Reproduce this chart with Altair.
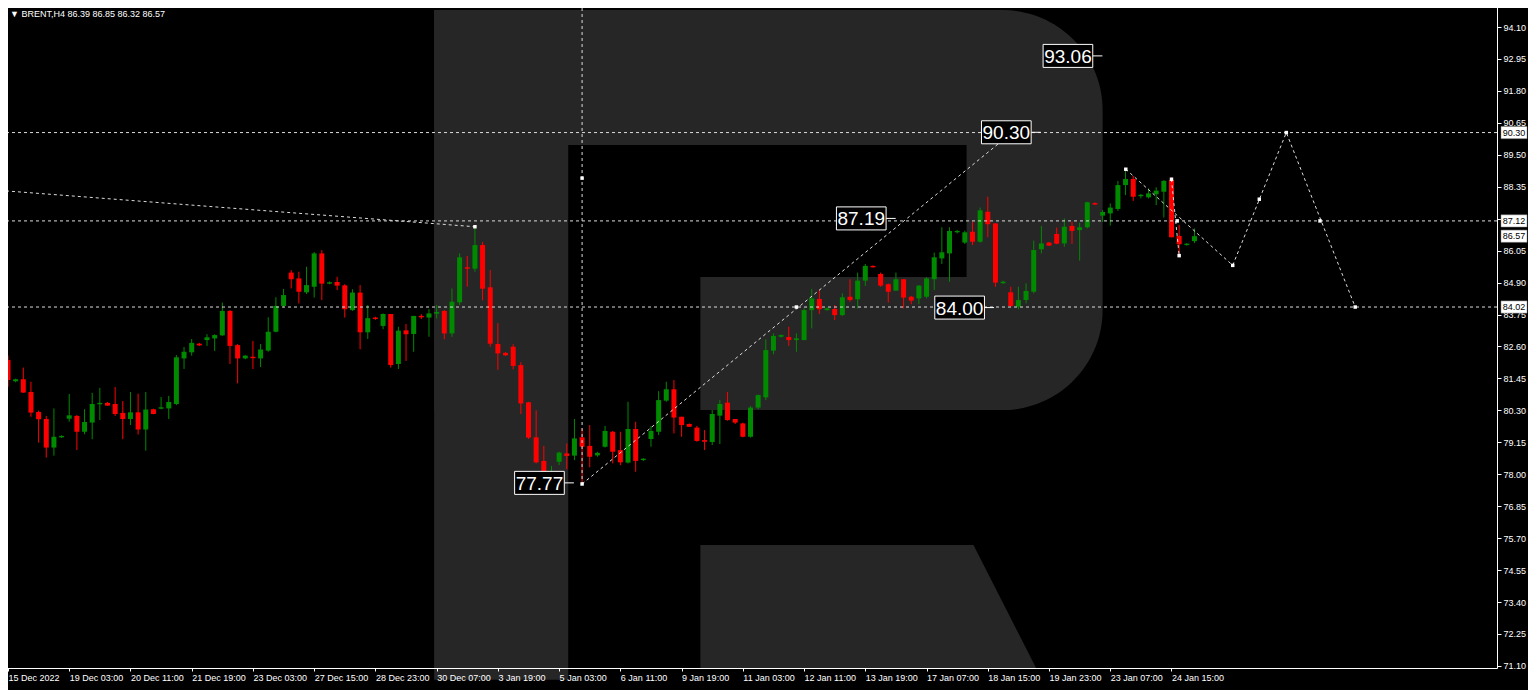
import altair as alt
import pandas as pd

# ---------------- candle data (H4 bars, index 0 = 15 Dec 2022) ----------------
opens = [82.11, 81.35, 81.42, 80.96, 80.24, 79.99, 78.96, 79.33, 80.00, 80.10,
         79.53, 79.86, 80.52, 80.57, 80.53, 80.21, 79.99, 80.23, 79.61, 80.34,
         80.36, 80.37, 80.53, 82.17, 82.39, 82.70, 82.83, 82.89, 83.00, 83.88,
         82.65, 82.17, 82.23, 82.17, 82.45, 83.13, 84.06, 85.26, 85.05, 84.55,
         84.75, 85.95, 84.86, 84.92, 84.80, 83.91, 84.54, 83.11, 83.64, 83.34,
         83.77, 81.97, 83.18, 83.05, 83.70, 83.64, 83.78, 83.88, 83.07, 84.19,
         85.45, 85.40, 86.25, 84.73, 82.69, 82.37, 82.59, 81.93, 80.59, 79.33,
         78.48, 77.98, 78.45, 78.75, 78.67, 79.33, 79.02, 78.68, 78.99, 79.53,
         78.87, 78.42, 79.63, 78.51, 79.27, 79.53, 80.65, 81.06, 80.07, 79.81,
         79.68, 79.23, 79.16, 80.11, 80.58, 79.99, 79.83, 79.35, 80.40, 80.77,
         82.45, 82.95, 82.94, 82.83, 82.83, 83.91, 84.31, 83.91, 83.95, 83.73,
         84.39, 84.30, 84.97, 85.50, 85.21, 84.84, 84.61, 85.02, 84.39, 84.33,
         84.39, 85.02, 85.77, 85.95, 86.71, 86.34, 86.73, 86.37, 87.45, 87.03,
         84.88, 84.55, 84.03, 84.27, 84.57, 86.10, 86.34, 86.65, 86.31, 86.94,
         86.79, 86.89, 87.76, 87.31, 87.39, 87.55, 88.41, 88.63, 88.03, 87.97,
         88.08, 88.17, 88.59, 86.58, 86.26, 86.39]
highs = [82.27, 81.44, 81.84, 81.33, 80.29, 80.10, 80.37, 79.40, 80.89, 80.13,
         80.34, 80.93, 81.11, 80.60, 81.14, 80.64, 80.96, 80.90, 80.96, 80.36,
         80.78, 80.82, 82.29, 82.58, 82.87, 82.73, 83.04, 83.04, 84.18, 83.91,
         82.69, 82.29, 82.80, 82.69, 83.65, 84.37, 84.67, 85.35, 85.29, 85.47,
         86.00, 86.07, 84.94, 85.11, 84.84, 84.66, 84.81, 84.09, 83.67, 83.79,
         83.77, 83.31, 83.41, 83.70, 83.76, 83.94, 84.09, 83.91, 84.69, 85.95,
         85.86, 86.91, 86.36, 85.35, 83.44, 82.40, 82.68, 82.03, 80.61, 80.30,
         79.02, 78.30, 78.81, 79.11, 79.99, 79.65, 79.77, 78.81, 79.74, 79.56,
         79.53, 80.61, 79.89, 78.58, 79.74, 80.99, 81.33, 81.39, 80.07, 79.83,
         79.74, 79.59, 80.31, 80.67, 80.96, 79.99, 79.86, 80.46, 80.87, 82.86,
         83.07, 83.03, 83.31, 83.07, 83.97, 84.67, 84.63, 84.01, 84.09, 84.51,
         85.02, 85.26, 85.57, 85.52, 85.26, 84.87, 85.26, 85.02, 84.42, 84.81,
         85.09, 85.98, 86.89, 86.89, 86.79, 86.77, 87.09, 87.60, 87.99, 87.03,
         84.97, 84.75, 84.75, 84.87, 86.41, 86.94, 86.36, 86.88, 87.21, 87.09,
         87.06, 87.81, 87.79, 87.51, 87.75, 88.56, 89.01, 88.74, 88.09, 88.29,
         88.33, 88.59, 88.68, 86.98, 86.32, 86.85]
lows = [81.15, 81.31, 80.93, 80.07, 79.14, 78.60, 78.67, 79.31, 79.89, 78.87,
        79.44, 79.26, 79.95, 80.47, 80.10, 79.26, 79.77, 79.43, 78.85, 80.16,
        80.34, 79.99, 80.49, 81.79, 82.27, 82.62, 82.62, 82.44, 82.98, 81.97,
        81.27, 82.14, 81.79, 81.86, 82.41, 83.11, 84.01, 84.69, 84.15, 84.49,
        84.36, 84.27, 84.84, 84.63, 83.64, 83.88, 82.50, 82.87, 83.56, 83.22,
        81.84, 81.79, 82.08, 82.41, 83.59, 82.95, 83.61, 82.86, 82.95, 84.09,
        84.75, 85.29, 84.26, 82.59, 81.76, 82.26, 81.78, 80.17, 79.27, 78.39,
        77.85, 77.90, 78.33, 78.18, 78.51, 77.70, 78.25, 78.63, 78.96, 78.39,
        78.33, 78.39, 78.09, 78.48, 78.99, 79.41, 80.61, 79.47, 79.35, 79.70,
        79.17, 78.87, 79.05, 79.09, 79.93, 79.81, 79.33, 79.32, 80.34, 80.67,
        82.32, 82.92, 82.62, 82.41, 82.83, 83.25, 83.77, 83.89, 83.55, 83.70,
        84.21, 83.97, 84.78, 85.44, 84.75, 84.18, 84.61, 83.97, 84.12, 84.12,
        84.33, 84.63, 85.57, 84.93, 86.67, 86.29, 86.25, 86.34, 86.53, 84.75,
        84.85, 84.01, 83.94, 84.15, 84.51, 85.95, 86.22, 86.28, 86.19, 86.29,
        85.69, 86.85, 87.69, 87.08, 86.95, 87.48, 88.05, 87.84, 87.93, 87.93,
        87.69, 87.24, 86.53, 85.81, 86.23, 86.32]
closes = [81.39, 81.42, 80.94, 80.22, 79.98, 78.96, 79.35, 79.38, 80.12, 79.53,
          79.88, 80.53, 80.57, 80.47, 80.17, 79.99, 80.23, 79.61, 80.33, 80.17,
          80.41, 80.60, 82.21, 82.41, 82.73, 82.64, 82.93, 83.01, 83.88, 82.62,
          82.17, 82.27, 82.19, 82.49, 83.13, 84.06, 84.45, 85.02, 84.57, 84.81,
          85.95, 84.86, 84.91, 84.79, 83.94, 84.54, 83.11, 83.62, 83.59, 83.77,
          81.93, 83.17, 83.04, 83.70, 83.65, 83.79, 83.84, 83.07, 84.21, 85.81,
          85.40, 86.25, 84.68, 82.70, 82.35, 82.28, 81.90, 80.55, 79.32, 78.43,
          78.03, 78.09, 78.78, 78.66, 79.29, 78.99, 78.63, 78.77, 79.56, 78.81,
          78.43, 79.63, 78.48, 78.56, 79.56, 80.67, 81.06, 80.04, 79.77, 79.71,
          79.20, 79.17, 80.17, 80.53, 79.95, 79.86, 79.35, 80.40, 80.85, 82.47,
          82.98, 83.01, 82.83, 82.89, 83.91, 84.33, 83.94, 83.97, 83.73, 84.37,
          84.27, 84.97, 85.50, 85.45, 84.79, 84.57, 85.02, 84.36, 84.25, 84.79,
          85.05, 85.81, 85.99, 86.76, 86.76, 86.71, 86.37, 87.50, 87.00, 84.90,
          84.93, 84.06, 84.27, 84.60, 86.07, 86.31, 86.23, 86.30, 86.91, 86.76,
          86.89, 87.79, 87.72, 87.44, 87.60, 88.41, 88.63, 87.99, 88.06, 88.11,
          88.21, 88.56, 86.53, 86.28, 86.30, 86.57]
bar_index = list(range(len(opens)))

# ---------------- axes ----------------
date_tick_index = [0, 8, 16, 24, 32, 40, 48, 56, 64, 72, 80, 88, 96, 104, 112,
                   120, 128, 136, 144, 152]
date_labels = ["15 Dec 2022", "19 Dec 03:00", "20 Dec 11:00", "21 Dec 19:00",
               "23 Dec 03:00", "27 Dec 15:00", "28 Dec 23:00", "30 Dec 07:00",
               "3 Jan 19:00", "5 Jan 03:00", "6 Jan 11:00", "9 Jan 19:00",
               "11 Jan 03:00", "12 Jan 11:00", "13 Jan 19:00", "17 Jan 07:00",
               "18 Jan 15:00", "19 Jan 23:00", "23 Jan 07:00", "24 Jan 15:00"]
price_ticks = [71.10, 72.25, 73.40, 74.55, 75.70, 76.85, 78.00, 79.15, 80.30,
               81.45, 82.60, 83.75, 84.90, 86.05, 87.20, 88.35, 89.50, 90.65,
               91.80, 92.95, 94.10]

# ---------------- drawn objects ----------------
level_prices = [90.30, 87.12, 84.02]
axis_box_prices = [90.30, 87.12, 86.57, 84.02]
axis_box_labels = ["90.30", "87.12", "86.57", "84.02"]

ann_text = ["93.06", "90.30", "87.19", "84.00", "77.77"]
ann_index = [138.47, 130.42, 111.47, 124.32, 69.43]
ann_price = [93.06, 90.31, 87.21, 84.00, 77.69]

path_id = ["trend", "trend", "diag", "diag", "vert", "vert",
           "fc", "fc", "fc", "fc", "drop", "drop"]
path_order = [0, 1, 0, 1, 0, 1, 0, 1, 2, 3, 0, 1]
path_index = [-0.26, 61.0, 75.0, 129.4, 75.0, 75.0,
              146.03, 160.0, 167.0, 176.0, 152.0, 153.0]
path_price = [88.20, 86.91, 77.65, 89.90, 95.0, 77.65,
              88.98, 85.52, 90.30, 84.02, 88.62, 85.87]

marker_index = [75.0, 75.0, 103.0, 146.03, 152.0, 152.74, 153.0, 160.0,
                163.47, 167.0, 171.4, 176.0, 61.0]
marker_price = [77.65, 88.66, 84.02, 88.98, 88.62, 87.12, 85.87, 85.52,
                87.90, 90.30, 87.12, 84.02, 86.91]

header_text = "\u25bc BRENT,H4  86.39 86.85 86.32 86.57"

# watermark logo (in bar-index / price units)
logo_stem = {"i1": [55.67], "i2": [73.19], "p1": [94.71], "p2": [70.6]}
logo_bowl = {"i1": [55.67], "i2": [143.0], "p1": [94.71], "p2": [80.31]}
logo_holes = {"i1": [73.19, 73.19], "i2": [125.23, 90.45],
              "p1": [89.85, 85.10], "p2": [85.10, 80.31]}
logo_leg = {"i": [90.45, 126.13, 134.31], "top": [75.45, 75.45, 71.03],
            "bot": [71.0, 71.0, 71.0]}

# ---------------- styling ----------------
W, H = 1496, 666
GREEN, RED = "#008a00", "#ff0000"
GREY = "#262626"
LINE = "#dcdcdc"
FONT = "Liberation Sans"

xs = alt.Scale(domain=[-0.2595, 193.87], nice=False, zero=False)
ys = alt.Scale(domain=[71.026, 95.0], nice=False, zero=False)

candles = pd.DataFrame({"i": bar_index, "o": opens, "h": highs,
                        "l": lows, "c": closes})
label_expr = "[" + ",".join("'%s'" % s for s in date_labels) + "][round(datum.value/8)]"

x_axis = alt.Axis(values=date_tick_index, labelExpr=label_expr, orient="bottom",
                  labelAlign="left", labelBaseline="top", labelPadding=2,
                  tickSize=3, labelColor="white", tickColor="white",
                  domainColor="white", labelFont=FONT, labelFontSize=9,
                  grid=False, title=None, labelOverlap=False, labelBound=False,
                  labelFlush=False, zindex=1)
y_axis = alt.Axis(values=price_ticks, format=".2f", orient="right",
                  tickSize=4, labelPadding=2, labelColor="white",
                  tickColor="white", domainColor="white", labelFont=FONT,
                  labelFontSize=9, grid=False, title=None, labelOverlap=False,
                  labelBound=False, labelFlush=False)


def X(field):
    return alt.X(field, scale=xs, axis=x_axis)


def Y(field):
    return alt.Y(field, scale=ys, axis=y_axis)


color_cond = alt.condition("datum.c >= datum.o", alt.value(GREEN), alt.value(RED))

# logo layers
stem = alt.Chart(pd.DataFrame(logo_stem)).mark_rect(color=GREY).encode(
    x=X("i1:Q"), x2="i2:Q", y=Y("p1:Q"), y2="p2:Q")
bowl = alt.Chart(pd.DataFrame(logo_bowl)).mark_rect(
    color=GREY, cornerRadiusTopRight=100, cornerRadiusBottomRight=100).encode(
    x=X("i1:Q"), x2="i2:Q", y=Y("p1:Q"), y2="p2:Q")
holes = alt.Chart(pd.DataFrame(logo_holes)).mark_rect(color="black").encode(
    x=X("i1:Q"), x2="i2:Q", y=Y("p1:Q"), y2="p2:Q")
leg = alt.Chart(pd.DataFrame(logo_leg)).mark_area(color=GREY, opacity=1).encode(
    x=X("i:Q"), y=Y("top:Q"), y2="bot:Q")

# candles
wicks = alt.Chart(candles).mark_rule(strokeWidth=1).encode(
    x=X("i:Q"), y=Y("l:Q"), y2="h:Q", color=color_cond)
bodies = alt.Chart(candles).transform_calculate(
    bt="max(datum.o, datum.c)",
    bb="abs(datum.o - datum.c) < 0.05 ? max(datum.o, datum.c) - 0.05 : min(datum.o, datum.c)"
).mark_bar(size=5).encode(
    x=X("i:Q"), y=Y("bt:Q"), y2="bb:Q", color=color_cond)

# horizontal levels
levels = alt.Chart(pd.DataFrame({"p": level_prices})).mark_rule(
    color=LINE, strokeDash=[3, 3], strokeWidth=1).encode(y=Y("p:Q"))

# dashed paths
paths_df = pd.DataFrame({"id": path_id, "ord": path_order,
                         "i": path_index, "p": path_price})
paths = alt.Chart(paths_df).mark_line(
    color=LINE, strokeDash=[3, 3], strokeWidth=1, clip=True).encode(
    x=X("i:Q"), y=Y("p:Q"), detail="id:N", order="ord:Q")

markers = alt.Chart(pd.DataFrame({"i": marker_index, "p": marker_price})).mark_point(
    shape="square", filled=True, size=12, color="white", opacity=1).encode(
    x=X("i:Q"), y=Y("p:Q"))

# annotation boxes
ann_df = pd.DataFrame({"t": ann_text, "i": ann_index, "p": ann_price})
ann_base = alt.Chart(ann_df).transform_calculate(
    x1="datum.i - 3.244", x2="datum.i + 3.244",
    y1="datum.p - 0.414", y2="datum.p + 0.414", xc="datum.i + 4.5")
ann_conn = ann_base.mark_rule(color="white", strokeWidth=1).encode(
    x=X("x2:Q"), x2="xc:Q", y=Y("p:Q"))
ann_box = ann_base.mark_rect(fill="black", stroke="white", strokeWidth=1).encode(
    x=X("x1:Q"), x2="x2:Q", y=Y("y1:Q"), y2="y2:Q")
ann_txt = ann_base.mark_text(
    color="white", font=FONT, fontSize=19, align="center",
    baseline="middle", dy=1).encode(
    x=X("i:Q"), y=Y("p:Q"), text="t:N")

# right-axis price boxes
abox_df = pd.DataFrame({"p": axis_box_prices, "t": axis_box_labels})
abox_base = alt.Chart(abox_df).transform_calculate(
    y1="datum.p - 0.22", y2="datum.p + 0.22")
abox = abox_base.mark_rect(fill="white", stroke="#808080", strokeWidth=0.5).encode(
    x=alt.value(W + 4), x2=alt.value(W + 30),
    y=Y("y1:Q"), y2="y2:Q")
abox_txt = abox_base.mark_text(color="black", font=FONT, fontSize=9,
                               align="center", baseline="middle").encode(
    x=alt.value(W + 17), y=Y("p:Q"), text="t:N")

header = alt.Chart(pd.DataFrame({"t": [header_text]})).mark_text(
    color="white", font=FONT, fontSize=9, align="left", baseline="middle").encode(
    x=alt.value(9), y=alt.value(12), text="t:N")

chart = alt.layer(
    stem, bowl, holes, leg, wicks, bodies, levels, paths, markers,
    ann_conn, ann_box, ann_txt, abox, abox_txt, header
).properties(
    width=W, height=H, background="black",
    padding={"left": -7, "top": -6, "right": 31, "bottom": 22},
    autosize=alt.AutoSizeParams(type="none")
).configure_view(strokeWidth=0)

chart.save("out.html", embed_options={"renderer": "svg", "actions": False})
